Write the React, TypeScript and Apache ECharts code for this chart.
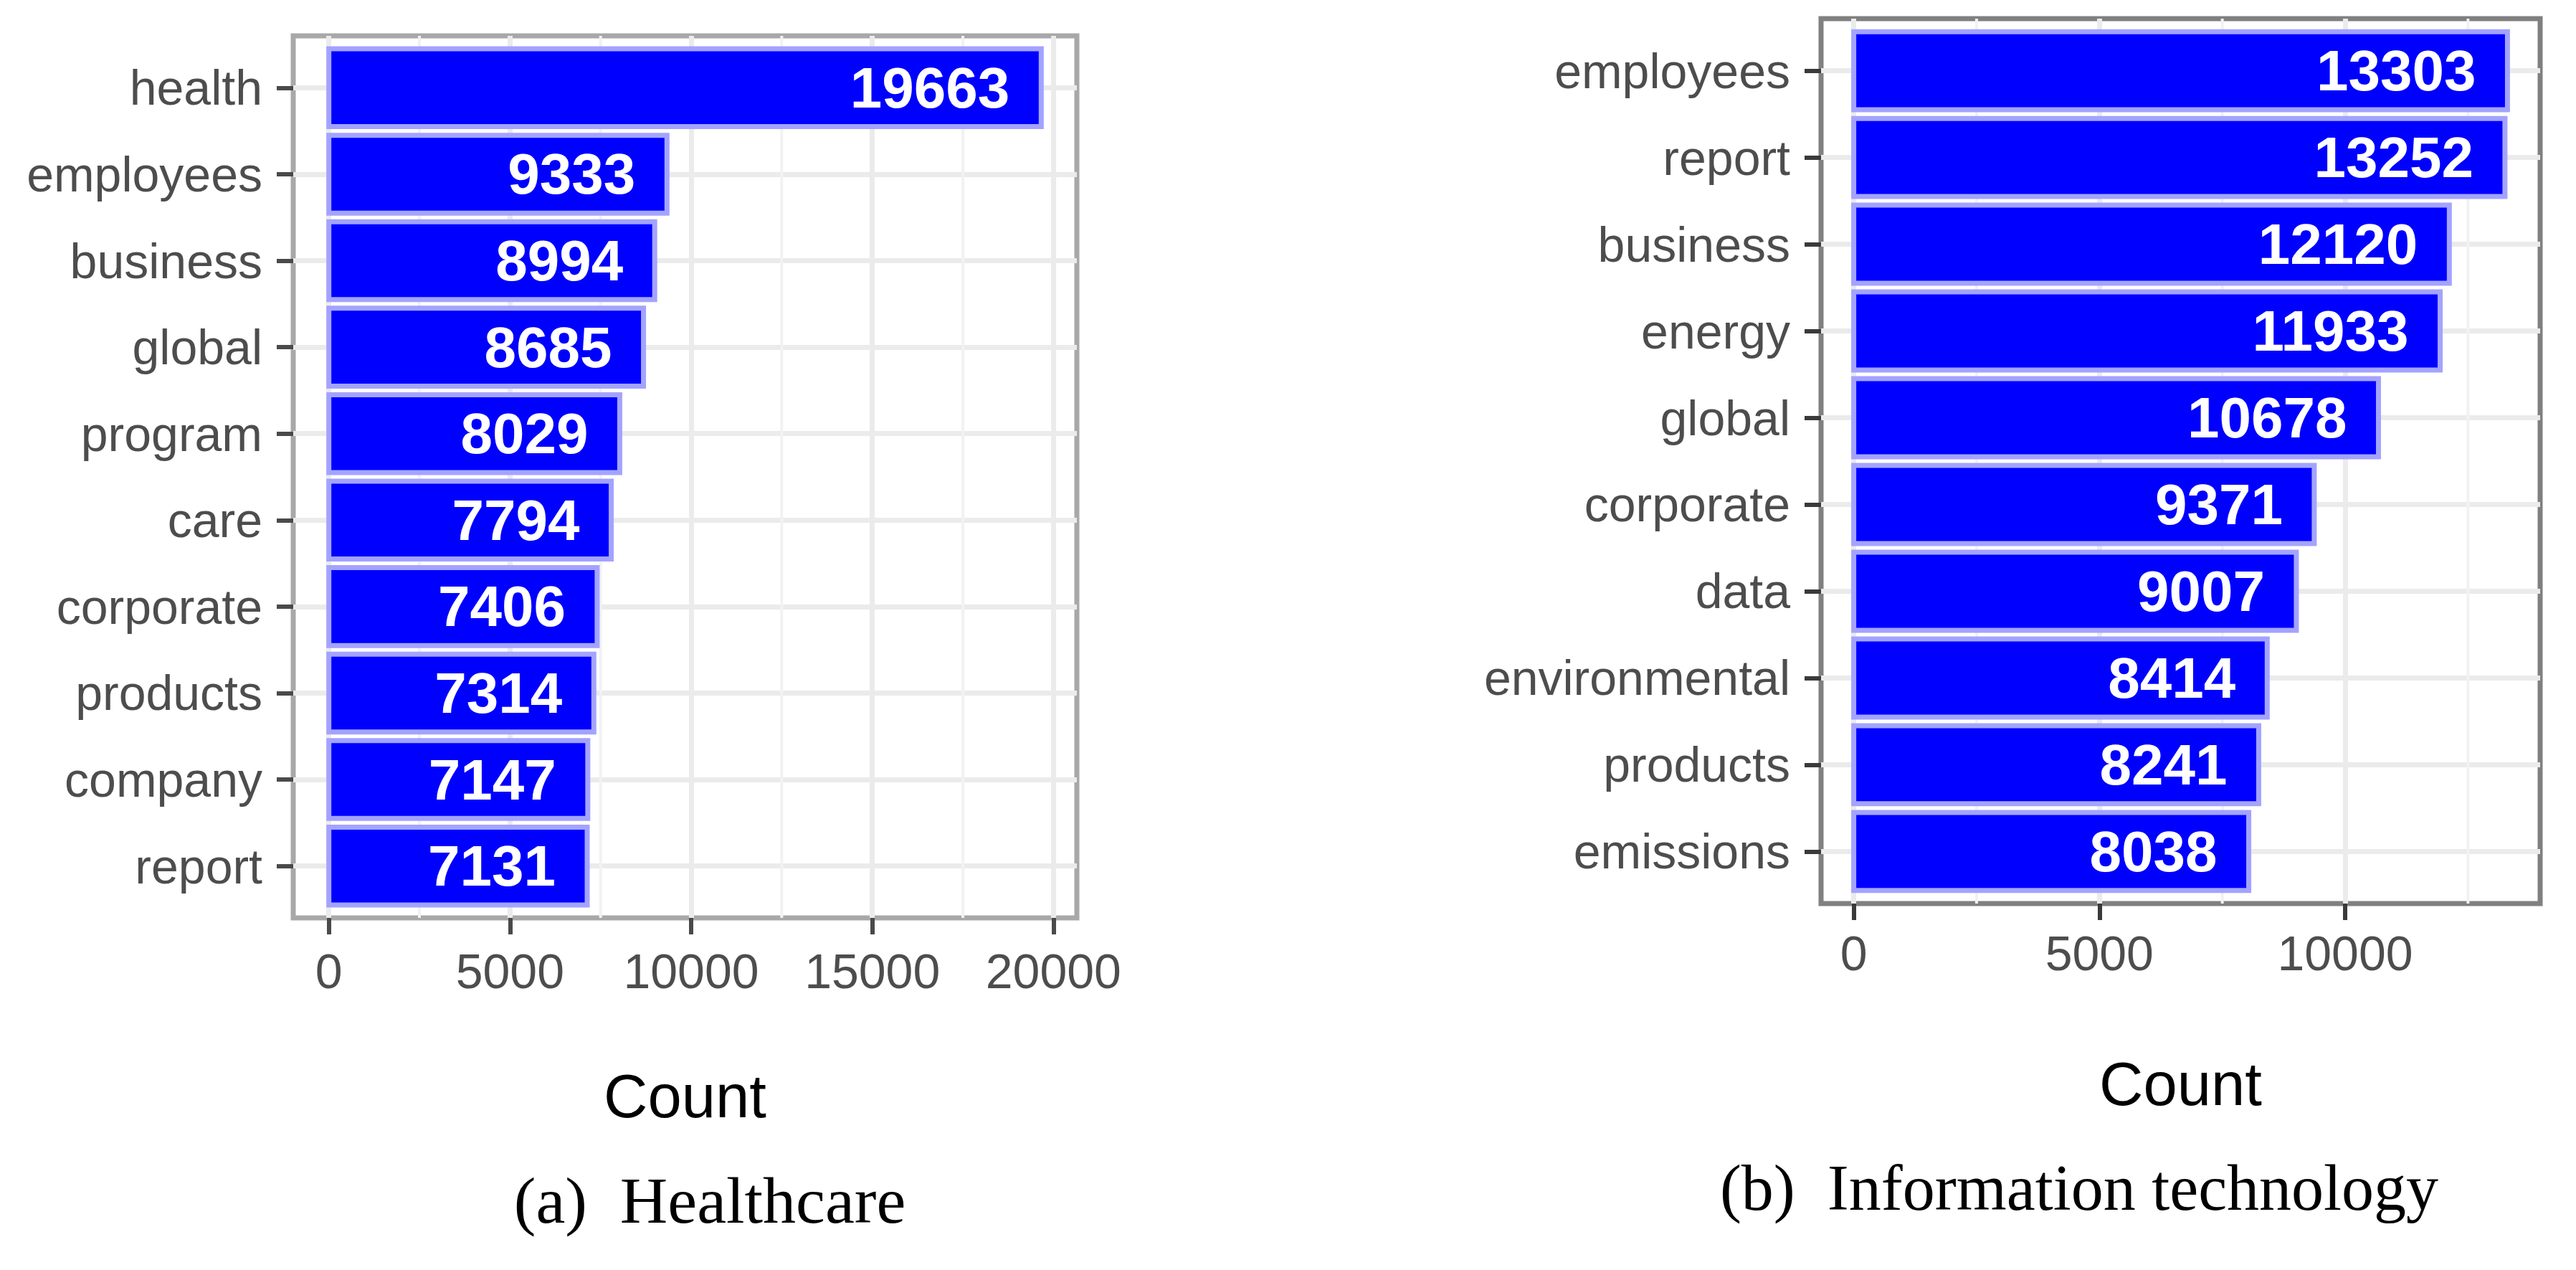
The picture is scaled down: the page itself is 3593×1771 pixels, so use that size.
import React, { useEffect, useRef } from "react";
import * as echarts from "echarts";

// ---- data ----
const healthCategories = ["health", "employees", "business", "global", "program", "care", "corporate", "products", "company", "report"];
const healthValues = [19663, 9333, 8994, 8685, 8029, 7794, 7406, 7314, 7147, 7131];
const itCategories = ["employees", "report", "business", "energy", "global", "corporate", "data", "environmental", "products", "emissions"];
const itValues = [13303, 13252, 12120, 11933, 10678, 9371, 9007, 8414, 8241, 8038];
const healthMajorTicks = [0, 5000, 10000, 15000, 20000];
const healthMinorTicks = [2500, 7500, 12500, 17500];
const itMajorTicks = [0, 5000, 10000];
const itMinorTicks = [2500, 7500, 12500];
const axisTitle = "Count";
const captionA = "(a)  Healthcare";
const captionB = "(b)  Information technology";

const SANS = "Liberation Sans";
const SERIF = "Liberation Serif";

function App() {
  const ref = useRef<HTMLDivElement>(null);

  useEffect(() => {
    if (!ref.current) return;
    const chart = echarts.init(ref.current, null, { renderer: "svg" });

    const panels = [
      {
        cats: healthCategories, vals: healthValues, major: healthMajorTicks, minor: healthMinorTicks,
        grid: { left: 409, top: 50, width: 1093, height: 1230 }, border: "#a8a8a8", tick: "#4a4a4a", nameGap: 206, labelMargin: 40,
      },
      {
        cats: itCategories, vals: itValues, major: itMajorTicks, minor: itMinorTicks,
        grid: { left: 2540, top: 26, width: 1003, height: 1234 }, border: "#808080", tick: "#3a3a3a", nameGap: 209, labelMargin: 35,
      },
    ];

    const grids: any[] = [];
    const xAxes: any[] = [];
    const yAxes: any[] = [];
    const series: any[] = [];

    panels.forEach((p, k) => {
      const maxVal = Math.max(...p.vals);
      const xMin = -0.05 * maxVal;
      const xMax = 1.05 * maxVal;
      const n = p.cats.length;
      const idxs = p.cats.map((_, i) => i);
      grids.push({
        ...p.grid,
        show: true,
        borderColor: p.border,
        borderWidth: 7,
        backgroundColor: "transparent",
      });
      xAxes.push({
        type: "value",
        gridIndex: k,
        min: xMin,
        max: xMax,
        position: "bottom",
        axisLine: { show: false, onZero: false },
        axisTick: { show: true, customValues: p.major, length: 23, lineStyle: { color: p.tick, width: 6 } },
        axisLabel: {
          customValues: p.major,
          formatter: (v: number) => String(Math.round(v)),
          fontSize: 68,
          color: "#4d4d4d",
          fontFamily: SANS,
          margin: p.labelMargin,
        },
        splitLine: { show: true, lineStyle: { color: "#ebebeb", width: 7 } },
        name: axisTitle,
        nameLocation: "middle",
        nameGap: p.nameGap,
        nameTextStyle: { fontSize: 85, color: "#000000", fontFamily: SANS },
      });
      yAxes.push({
        type: "value",
        gridIndex: k,
        inverse: true,
        min: -0.6,
        max: n - 1 + 0.6,
        axisLine: { show: false, onZero: false },
        axisTick: { show: true, customValues: idxs, length: 23, lineStyle: { color: p.tick, width: 6 } },
        axisLabel: {
          customValues: idxs,
          formatter: (v: number) => p.cats[Math.round(v)] ?? "",
          fontSize: 68,
          color: "#4d4d4d",
          fontFamily: SANS,
          margin: 43,
        },
        splitLine: { show: true, lineStyle: { color: "#ebebeb", width: 7 } },
      });
      // minor vertical grid lines
      series.push({
        type: "custom",
        xAxisIndex: k,
        yAxisIndex: k,
        z: 1,
        silent: true,
        data: p.minor.map((v) => [v, 0]),
        encode: { x: 0, y: 1 },
        renderItem: (_params: any, api: any) => {
          const v = api.value(0);
          const a = api.coord([v, -0.6]);
          const b = api.coord([v, n - 1 + 0.6]);
          return {
            type: "line",
            shape: { x1: a[0], y1: a[1], x2: b[0], y2: b[1] },
            style: { stroke: "#f2f2f2", lineWidth: 4 },
          };
        },
      });
      // bars + value labels
      series.push({
        type: "custom",
        xAxisIndex: k,
        yAxisIndex: k,
        z: 2,
        data: p.vals.map((v, i) => [v, i]),
        encode: { x: 0, y: 1 },
        renderItem: (_params: any, api: any) => {
          const val = api.value(0);
          const idx = api.value(1);
          const a = api.coord([0, idx - 0.45]);
          const b = api.coord([val, idx + 0.45]);
          const c = api.coord([val, idx]);
          const y0 = Math.min(a[1], b[1]);
          const h = Math.abs(b[1] - a[1]);
          return {
            type: "group",
            children: [
              {
                type: "rect",
                shape: { x: a[0], y: y0, width: b[0] - a[0], height: h },
                style: { fill: "#0000ff", stroke: "#a3a3ff", lineWidth: 7 },
              },
              {
                type: "text",
                x: c[0] - 44,
                y: c[1],
                style: {
                  text: String(val),
                  fill: "#ffffff",
                  fontSize: 80,
                  fontWeight: "bold",
                  fontFamily: SANS,
                  align: "right",
                  verticalAlign: "middle",
                },
              },
            ],
          };
        },
      });
    });

    chart.setOption({
      animation: false,
      backgroundColor: "#ffffff",
      textStyle: { fontFamily: SANS },
      grid: grids,
      xAxis: xAxes,
      yAxis: yAxes,
      series,
      graphic: [
        {
          type: "text",
          x: 990,
          y: 1674,
          style: { text: captionA, fontSize: 92, fontFamily: SERIF, fill: "#000000", align: "center", verticalAlign: "middle" },
        },
        {
          type: "text",
          x: 2900,
          y: 1656,
          style: { text: captionB, fontSize: 90, fontFamily: SERIF, fill: "#000000", align: "center", verticalAlign: "middle" },
        },
      ],
    });

    return () => chart.dispose();
  }, []);

  return (
    <div
      ref={ref}
      style={{ position: "fixed", left: 0, top: 0, width: 3593, height: 1771, background: "#ffffff" }}
    />
  );
}

export default App;
